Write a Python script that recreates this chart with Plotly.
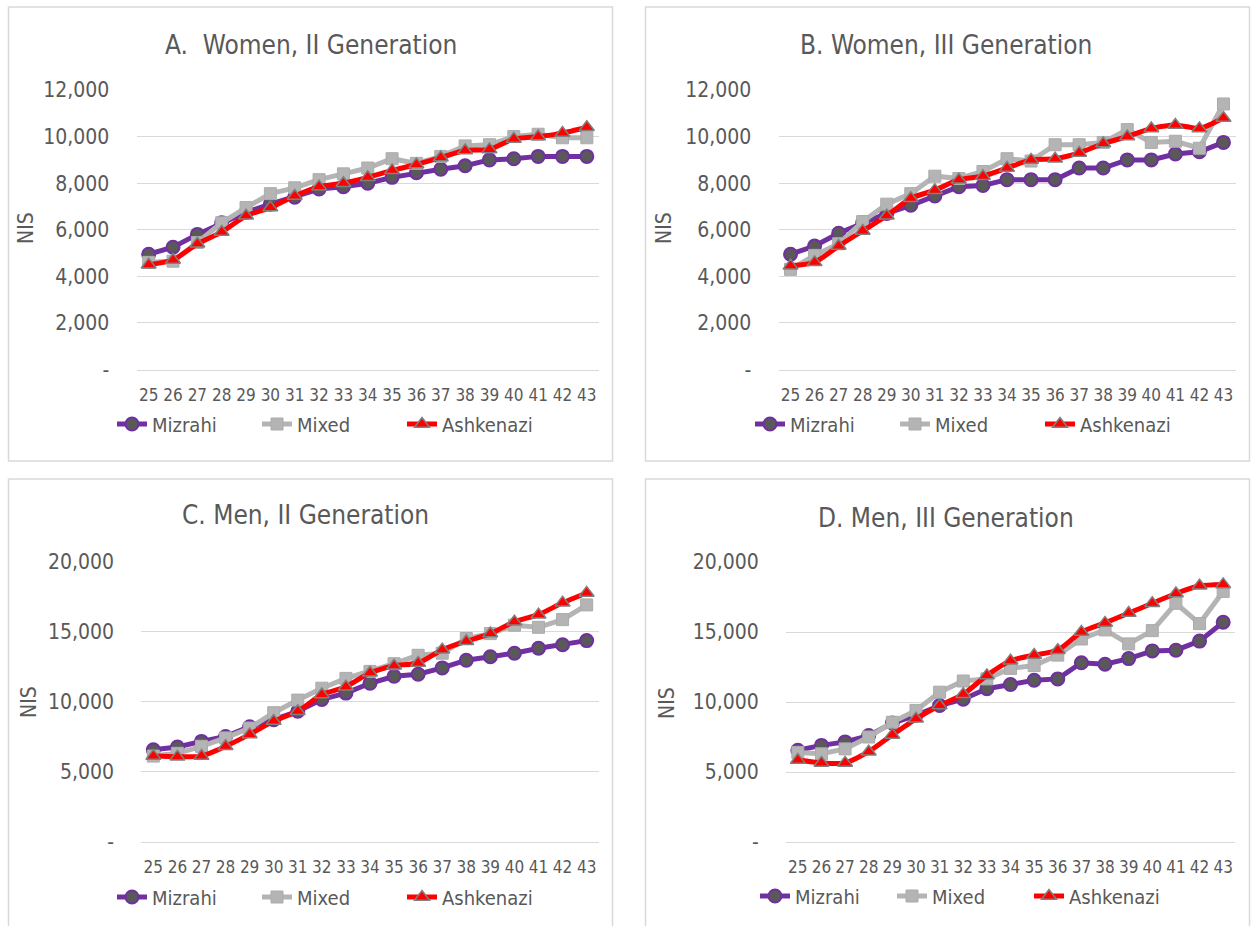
import plotly.graph_objects as go

# ---------------- data ----------------
ages = [25, 26, 27, 28, 29, 30, 31, 32, 33, 34, 35, 36, 37, 38, 39, 40, 41, 42, 43]
age_labels = ["25", "26", "27", "28", "29", "30", "31", "32", "33", "34",
              "35", "36", "37", "38", "39", "40", "41", "42", "43"]

series_names = ["Mizrahi", "Mixed", "Ashkenazi"]

# A. Women, II Generation
A_mizrahi = [4950, 5250, 5800, 6300, 6750, 7100, 7400, 7750, 7850, 8000, 8250, 8450, 8600, 8750, 9000, 9050, 9150, 9150, 9150]
A_mixed = [4600, 4650, 5450, 6300, 6950, 7550, 7800, 8150, 8400, 8650, 9050, 8850, 9150, 9600, 9650, 10000, 10100, 9950, 9950]
A_ashkenazi = [4500, 4700, 5400, 5900, 6600, 6950, 7450, 7850, 8000, 8250, 8550, 8800, 9100, 9400, 9450, 9900, 10000, 10150, 10400]

# B. Women, III Generation
B_mizrahi = [4950, 5300, 5850, 6300, 6700, 7050, 7450, 7850, 7900, 8150, 8150, 8150, 8650, 8650, 9000, 9000, 9250, 9350, 9750]
B_mixed = [4300, 4900, 5400, 6350, 7100, 7550, 8300, 8200, 8500, 9050, 8950, 9650, 9650, 9750, 10300, 9750, 9800, 9500, 11400]
B_ashkenazi = [4450, 4600, 5300, 5950, 6600, 7350, 7700, 8150, 8300, 8650, 9000, 9050, 9300, 9700, 10000, 10350, 10500, 10350, 10800]

# C. Men, II Generation
C_mizrahi = [6550, 6750, 7150, 7500, 8200, 8700, 9300, 10150, 10600, 11300, 11800, 11950, 12400, 12950, 13200, 13450, 13800, 14050, 14350]
C_mixed = [6100, 6300, 6800, 7400, 8100, 9200, 10100, 10950, 11650, 12150, 12700, 13300, 13450, 14500, 14850, 15450, 15300, 15850, 16900]
C_ashkenazi = [6100, 6050, 6100, 6800, 7650, 8600, 9300, 10500, 11050, 12050, 12550, 12750, 13700, 14300, 14850, 15700, 16200, 17050, 17750]

# D. Men, III Generation
D_mizrahi = [6550, 6900, 7150, 7600, 8500, 9050, 9750, 10200, 10950, 11250, 11550, 11650, 12800, 12700, 13100, 13650, 13700, 14350, 15700]
D_mixed = [6400, 6300, 6650, 7500, 8550, 9400, 10700, 11500, 11650, 12400, 12600, 13350, 14500, 15150, 14150, 15100, 17050, 15600, 17900]
D_ashkenazi = [5850, 5650, 5650, 6450, 7650, 8800, 9750, 10550, 11900, 12950, 13350, 13700, 15000, 15650, 16350, 17050, 17750, 18300, 18400]

women_ticks = [0, 2000, 4000, 6000, 8000, 10000, 12000]
women_ticklabels = ["-", "2,000", "4,000", "6,000", "8,000", "10,000", "12,000"]
men_ticks = [0, 5000, 10000, 15000, 20000]
men_ticklabels = ["-", "5,000", "10,000", "15,000", "20,000"]

titles = ["A.\u00a0 Women, II Generation", "B. Women, III Generation",
          "C. Men, II Generation", "D. Men, III Generation"]
y_title = "NIS"

# ---------------- layout / style ----------------
W, H = 1254, 926
FONT = "DejaVu Sans Condensed, DejaVu Sans, sans-serif"
TXT = "#595959"
GRID = "#D9D9D9"

def px_x(p):
    return p / W

def px_y(p):
    return 1 - p / H

panels = [
    dict(data=(A_mizrahi, A_mixed, A_ashkenazi), xd=(136.5, 599.0), yd=(90, 369.5),
         ticks=women_ticks, labels=women_ticklabels, ymax=12000,
         title_xy=(311, 45), nis_xy=(26, 228), legend_xy=(112, 424), ew=100),
    dict(data=(B_mizrahi, B_mixed, B_ashkenazi), xd=(778.5, 1235.5), yd=(90, 369.5),
         ticks=women_ticks, labels=women_ticklabels, ymax=12000,
         title_xy=(946, 45), nis_xy=(664, 228), legend_xy=(750, 424), ew=100),
    dict(data=(C_mizrahi, C_mixed, C_ashkenazi), xd=(141.3, 598.7), yd=(561.5, 841.5),
         ticks=men_ticks, labels=men_ticklabels, ymax=20000,
         title_xy=(305, 515), nis_xy=(29, 702), legend_xy=(112, 897), ew=100),
    dict(data=(D_mizrahi, D_mixed, D_ashkenazi), xd=(786.0, 1235.0), yd=(562, 842),
         ticks=men_ticks, labels=men_ticklabels, ymax=20000,
         title_xy=(946, 518), nis_xy=(667, 703), legend_xy=(755, 896), ew=92),
]

styles = [
    dict(line=dict(color="#7030A0", width=5), marker=dict(symbol="circle", size=13, color="#595959",
                                                         line=dict(color="#7030A0", width=2)), shape="linear"),
    dict(line=dict(color="#B4B4B4", width=5), marker=dict(symbol="square", size=12, color="#B4B4B4",
                                                         line=dict(color="#ABABAB", width=1)), shape="linear"),
    dict(line=dict(color="#FF0000", width=5), marker=dict(symbol="triangle-up", size=13, color="#FF0000",
                                                         line=dict(color="#808080", width=1.5)), shape="spline"),
]

fig = go.Figure()
layout = dict(
    width=W, height=H, autosize=False,
    margin=dict(l=0, r=0, t=0, b=0, pad=0),
    paper_bgcolor="white", plot_bgcolor="white",
    font=dict(family=FONT, color=TXT),
    showlegend=True,
)
annotations = []
shapes = []

for i, p in enumerate(panels):
    n = "" if i == 0 else str(i + 1)
    xa, ya = "x" + n, "y" + n
    leg = "legend" + n
    for s, (vals, name) in enumerate(zip(p["data"], series_names)):
        st = styles[s]
        fig.add_trace(go.Scatter(
            x=ages, y=vals, name=name, mode="lines+markers",
            line=dict(color=st["line"]["color"], width=st["line"]["width"], shape=st["shape"],
                      smoothing=0.6 if st["shape"] == "spline" else None),
            marker=st["marker"], xaxis=xa, yaxis=ya, legend=leg,
            hoverinfo="x+y+name",
        ))
    layout["xaxis" + n] = dict(
        domain=[px_x(p["xd"][0]), px_x(p["xd"][1])], anchor=ya,
        range=[24.5, 43.5], tickmode="array", tickvals=ages, ticktext=age_labels,
        tickangle=0, showgrid=False, zeroline=False,
        showline=True, linecolor=GRID, linewidth=1,
        ticks="outside", ticklen=10, tickcolor="rgba(0,0,0,0)",
        tickfont=dict(family=FONT, size=17, color=TXT), fixedrange=True, automargin=False,
    )
    layout["yaxis" + n] = dict(
        domain=[px_y(p["yd"][1]), px_y(p["yd"][0])], anchor=xa,
        range=[0, p["ymax"]], tickmode="array", tickvals=p["ticks"], ticktext=p["labels"],
        showgrid=True, gridcolor=GRID, gridwidth=1, zeroline=False, showline=False,
        ticks="outside", ticklen=22, tickcolor="rgba(0,0,0,0)",
        tickfont=dict(family=FONT, size=21, color=TXT), fixedrange=True, automargin=False,
    )
    layout[leg] = dict(
        orientation="h", x=px_x(p["legend_xy"][0]), xanchor="left",
        y=px_y(p["legend_xy"][1]), yanchor="middle",
        font=dict(family=FONT, size=20, color=TXT), bgcolor="rgba(0,0,0,0)",
        entrywidth=p["ew"], entrywidthmode="pixels", itemclick=False, itemdoubleclick=False,
    )
    annotations.append(dict(
        text=titles[i], x=px_x(p["title_xy"][0]), y=px_y(p["title_xy"][1]),
        xref="paper", yref="paper", xanchor="center", yanchor="middle", showarrow=False,
        font=dict(family=FONT, size=26, color=TXT),
    ))
    annotations.append(dict(
        text=y_title, x=px_x(p["nis_xy"][0]), y=px_y(p["nis_xy"][1]),
        xref="paper", yref="paper", xanchor="center", yanchor="middle", showarrow=False,
        textangle=-90, font=dict(family=FONT, size=21, color=TXT),
    ))

# panel borders
for (x0, y0, x1, y1) in [(8.5, 7, 612.5, 461), (645.5, 7, 1249.5, 461),
                         (8.5, 479, 612.5, 935), (645.5, 479, 1249.5, 935)]:
    shapes.append(dict(type="rect", xref="paper", yref="paper",
                       x0=px_x(x0), x1=px_x(x1), y0=px_y(y1), y1=px_y(y0),
                       line=dict(color=GRID, width=1.5), fillcolor="rgba(0,0,0,0)", layer="below"))

layout["annotations"] = annotations
layout["shapes"] = shapes
fig.update_layout(**layout)

fig.write_html(
    "out.html",
    config={"displayModeBar": False},
    post_script=("document.documentElement.style.margin='0';document.body.style.margin='0';"
                 "document.body.style.padding='0';document.body.style.overflow='hidden';"
                 "document.documentElement.style.overflow='hidden';"),
)
